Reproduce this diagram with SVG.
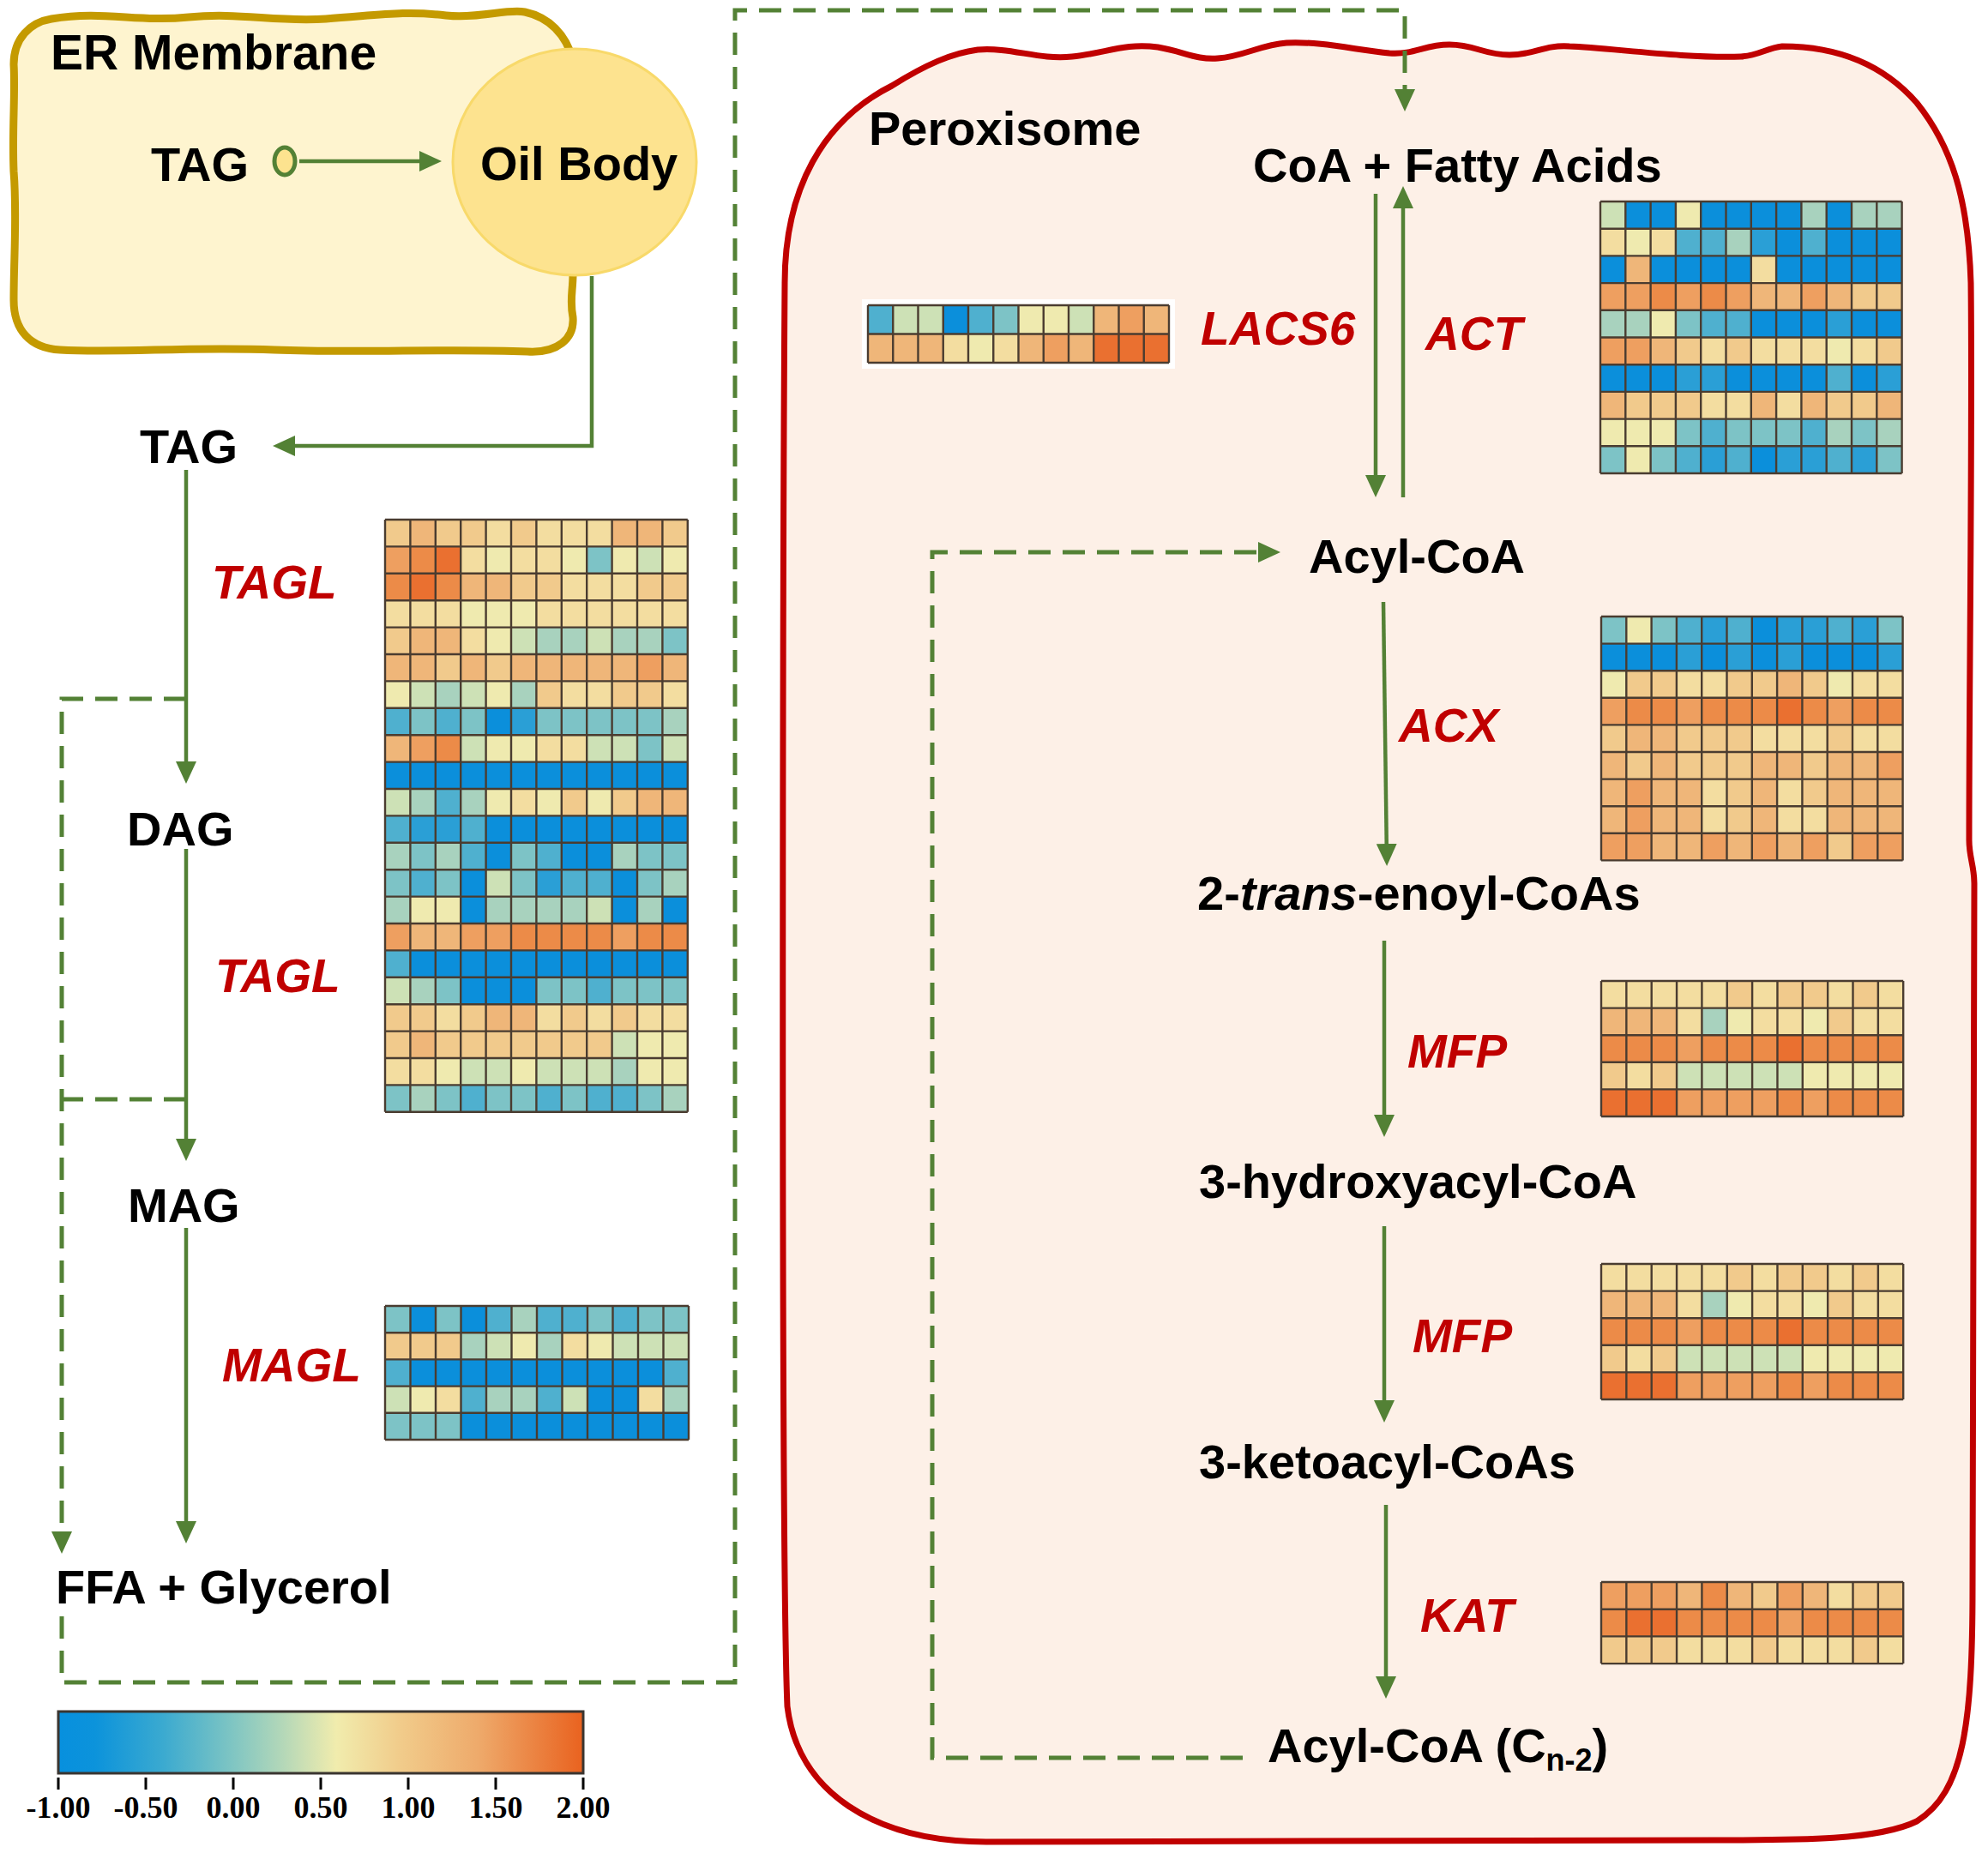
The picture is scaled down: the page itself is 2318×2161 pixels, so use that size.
<svg xmlns="http://www.w3.org/2000/svg" width="2318" height="2161" viewBox="0 0 2318 2161">
<style>
.lbl{font-family:"Liberation Sans",Arial,sans-serif;font-weight:bold;font-size:56px;fill:#000}
.enz{font-family:"Liberation Sans",Arial,sans-serif;font-weight:bold;font-style:italic;font-size:55px;fill:#C00000}
.tick{font-family:"Liberation Serif","Times New Roman",serif;font-weight:bold;font-size:36px;fill:#000;text-anchor:middle}
.hm rect{width:1px;height:1px}
.grid{fill:none;stroke:#4A3C30;stroke-width:2.4;vector-effect:non-scaling-stroke}
.s{fill:none;stroke:#538135;stroke-width:4.5}
.d{fill:none;stroke:#538135;stroke-width:5;stroke-dasharray:26 14}
.B{fill:#0B8FDB}.b{fill:#2A9FD6}.t{fill:#4FB0CF}.T{fill:#7DC3C6}.g{fill:#A8D2BE}.G{fill:#CDE1B6}.y{fill:#EFEAAF}.Y{fill:#F3DDA0}.o{fill:#F1CA8C}.O{fill:#EFB679}.p{fill:#EE9F60}.P{fill:#EC8B48}.R{fill:#EA7030}
</style>
<defs>
<marker id="ah" markerUnits="userSpaceOnUse" markerWidth="26" markerHeight="24" refX="20" refY="12" orient="auto" viewBox="0 0 26 24"><path d="M0,0 L26,12 L0,24 z" fill="#538135"/></marker>
<linearGradient id="lg" x1="0" y1="0" x2="1" y2="0">
<stop offset="0" stop-color="#0790DE"/><stop offset="0.07" stop-color="#0C93DB"/><stop offset="0.2" stop-color="#3BAAD0"/><stop offset="0.33" stop-color="#7EC5C3"/><stop offset="0.43" stop-color="#B5D8B8"/><stop offset="0.53" stop-color="#F1ECAD"/><stop offset="0.65" stop-color="#F1CC8B"/><stop offset="0.8" stop-color="#EEAA6B"/><stop offset="1" stop-color="#E9621F"/>
</linearGradient>
</defs>
<rect width="2318" height="2161" fill="#fff"/>

<g id="er-membrane">
<path d="M60,22 C120,12 160,26 220,20 C280,14 320,26 380,22 C440,18 470,12 520,18 C560,22 590,10 612,14 C640,20 660,40 668,70 L668,320 C668,340 664,350 668,370 C670,395 650,412 615,410 C520,406 420,412 320,408 C220,404 140,412 70,408 C35,406 16,385 16,350 C16,300 20,250 16,200 C14,150 18,110 16,75 C16,45 35,26 60,22 Z" fill="#FEF4CF" stroke="#C49A00" stroke-width="9"/>
<text class="lbl" x="59" y="81" style="font-size:57px">ER Membrane</text>
<text class="lbl" x="176" y="211">TAG</text>
<ellipse cx="332" cy="188" rx="12" ry="16" fill="#FDE38F" stroke="#538135" stroke-width="5"/>
</g>

<g id="oil-body">
<ellipse cx="670" cy="189" rx="142" ry="132" fill="#FDE38F" stroke="#F8D96A" stroke-width="3"/>
<text class="lbl" x="560" y="210">Oil Body</text>
</g>

<g id="peroxisome">
<path d="M915,330 C915,220 960,140 1040,100 C1080,75 1110,62 1140,58 C1180,55 1210,70 1250,66 C1290,62 1310,50 1350,55 C1380,60 1395,70 1420,68 C1450,66 1470,52 1500,50 C1540,48 1580,58 1620,62 C1650,64 1660,52 1690,52 C1720,52 1730,64 1760,64 C1790,64 1800,52 1830,54 C1880,56 1960,68 2030,66 C2050,65 2060,56 2078,54 C2150,54 2200,80 2235,120 C2275,170 2295,230 2298,330 C2300,500 2296,800 2296,980 C2296,1000 2302,1010 2302,1030 C2302,1400 2300,1700 2300,1850 C2300,2010 2290,2090 2235,2124 C2190,2146 2100,2146 2000,2146 L1150,2148 C1020,2148 930,2090 918,1990 C910,1800 913,600 915,330 Z" fill="#FDF0E7" stroke="#C00000" stroke-width="7"/>
<text class="lbl" x="1013" y="169">Peroxisome</text>
</g>

<g id="connectors">
<line class="s" x1="349" y1="188" x2="509" y2="188" marker-end="url(#ah)"/>
<path class="s" d="M690,322 V520 H324" marker-end="url(#ah)"/>
<path class="s" d="M217,548 V908" marker-end="url(#ah)"/>
<path class="s" d="M217,990 V1348" marker-end="url(#ah)"/>
<path class="s" d="M217,1432 V1794" marker-end="url(#ah)"/>
<path class="d" d="M217,815 H72 V1806" marker-end="url(#ah)"/>
<path class="d" d="M217,1282 H72"/>
<path class="d" d="M72,1885 V1962 H857 V12 H1638 V124" marker-end="url(#ah)"/>
<path class="s" d="M1604,226 V574" marker-end="url(#ah)"/>
<path class="s" d="M1636,580 V223" marker-end="url(#ah)"/>
<path class="d" d="M1449,2050 H1087 V644 H1487" marker-end="url(#ah)"/>
<path class="s" d="M1613,702 L1617,1004" marker-end="url(#ah)"/>
<path class="s" d="M1614,1097 V1320" marker-end="url(#ah)"/>
<path class="s" d="M1614,1430 V1653" marker-end="url(#ah)"/>
<path class="s" d="M1616,1755 V1975" marker-end="url(#ah)"/>
</g>

<g id="node-tag"><text class="lbl" x="163" y="540">TAG</text></g>
<g id="node-dag"><text class="lbl" x="148" y="986">DAG</text></g>
<g id="node-mag"><text class="lbl" x="149" y="1425">MAG</text></g>
<g id="node-ffa"><text class="lbl" x="65" y="1870">FFA + Glycerol</text></g>
<g id="enz-tagl1"><text class="enz" x="247" y="698">TAGL</text></g>
<g id="enz-tagl2"><text class="enz" x="251" y="1157">TAGL</text></g>
<g id="enz-magl"><text class="enz" x="259" y="1611">MAGL</text></g>
<g id="node-coa"><text class="lbl" x="1461" y="212">CoA + Fatty Acids</text></g>
<g id="enz-lacs6"><text class="enz" x="1400" y="402">LACS6</text></g>
<g id="enz-act"><text class="enz" x="1662" y="408">ACT</text></g>
<g id="node-acylcoa"><text class="lbl" x="1526" y="668">Acyl-CoA</text></g>
<g id="enz-acx"><text class="enz" x="1631" y="865">ACX</text></g>
<g id="node-enoyl"><text class="lbl" x="1396" y="1061">2-<tspan font-style="italic">trans</tspan>-enoyl-CoAs</text></g>
<g id="enz-mfp1"><text class="enz" x="1641" y="1245">MFP</text></g>
<g id="node-hydroxy"><text class="lbl" x="1398" y="1397">3-hydroxyacyl-CoA</text></g>
<g id="enz-mfp2"><text class="enz" x="1647" y="1577">MFP</text></g>
<g id="node-keto"><text class="lbl" x="1398" y="1724">3-ketoacyl-CoAs</text></g>
<g id="enz-kat"><text class="enz" x="1656" y="1903">KAT</text></g>
<g id="node-acylcoa2"><text class="lbl" x="1478" y="2055">Acyl-CoA (C<tspan font-size="36" dy="10">n-2</tspan><tspan dy="-10">)</tspan></text></g>

<g id="heatmap-tagl" class="hm" transform="translate(449,606) scale(29.4,31.4)">
<rect x="0" y="0" class="o"/><rect x="1" y="0" class="O"/><rect x="2" y="0" class="o"/><rect x="3" y="0" class="o"/><rect x="4" y="0" class="Y"/><rect x="5" y="0" class="o"/><rect x="6" y="0" class="Y"/><rect x="7" y="0" class="Y"/><rect x="8" y="0" class="Y"/><rect x="9" y="0" class="O"/><rect x="10" y="0" class="O"/><rect x="11" y="0" class="o"/>
<rect x="0" y="1" class="p"/><rect x="1" y="1" class="P"/><rect x="2" y="1" class="R"/><rect x="3" y="1" class="Y"/><rect x="4" y="1" class="y"/><rect x="5" y="1" class="Y"/><rect x="6" y="1" class="Y"/><rect x="7" y="1" class="y"/><rect x="8" y="1" class="T"/><rect x="9" y="1" class="y"/><rect x="10" y="1" class="G"/><rect x="11" y="1" class="y"/>
<rect x="0" y="2" class="P"/><rect x="1" y="2" class="R"/><rect x="2" y="2" class="P"/><rect x="3" y="2" class="O"/><rect x="4" y="2" class="O"/><rect x="5" y="2" class="o"/><rect x="6" y="2" class="o"/><rect x="7" y="2" class="Y"/><rect x="8" y="2" class="Y"/><rect x="9" y="2" class="Y"/><rect x="10" y="2" class="o"/><rect x="11" y="2" class="o"/>
<rect x="0" y="3" class="Y"/><rect x="1" y="3" class="Y"/><rect x="2" y="3" class="Y"/><rect x="3" y="3" class="y"/><rect x="4" y="3" class="y"/><rect x="5" y="3" class="y"/><rect x="6" y="3" class="Y"/><rect x="7" y="3" class="Y"/><rect x="8" y="3" class="Y"/><rect x="9" y="3" class="Y"/><rect x="10" y="3" class="Y"/><rect x="11" y="3" class="Y"/>
<rect x="0" y="4" class="o"/><rect x="1" y="4" class="O"/><rect x="2" y="4" class="O"/><rect x="3" y="4" class="Y"/><rect x="4" y="4" class="y"/><rect x="5" y="4" class="G"/><rect x="6" y="4" class="g"/><rect x="7" y="4" class="g"/><rect x="8" y="4" class="G"/><rect x="9" y="4" class="g"/><rect x="10" y="4" class="g"/><rect x="11" y="4" class="T"/>
<rect x="0" y="5" class="O"/><rect x="1" y="5" class="O"/><rect x="2" y="5" class="o"/><rect x="3" y="5" class="O"/><rect x="4" y="5" class="o"/><rect x="5" y="5" class="O"/><rect x="6" y="5" class="O"/><rect x="7" y="5" class="O"/><rect x="8" y="5" class="O"/><rect x="9" y="5" class="O"/><rect x="10" y="5" class="p"/><rect x="11" y="5" class="O"/>
<rect x="0" y="6" class="y"/><rect x="1" y="6" class="G"/><rect x="2" y="6" class="g"/><rect x="3" y="6" class="G"/><rect x="4" y="6" class="y"/><rect x="5" y="6" class="g"/><rect x="6" y="6" class="o"/><rect x="7" y="6" class="Y"/><rect x="8" y="6" class="Y"/><rect x="9" y="6" class="o"/><rect x="10" y="6" class="o"/><rect x="11" y="6" class="Y"/>
<rect x="0" y="7" class="t"/><rect x="1" y="7" class="T"/><rect x="2" y="7" class="t"/><rect x="3" y="7" class="T"/><rect x="4" y="7" class="B"/><rect x="5" y="7" class="b"/><rect x="6" y="7" class="T"/><rect x="7" y="7" class="T"/><rect x="8" y="7" class="T"/><rect x="9" y="7" class="T"/><rect x="10" y="7" class="T"/><rect x="11" y="7" class="g"/>
<rect x="0" y="8" class="O"/><rect x="1" y="8" class="p"/><rect x="2" y="8" class="P"/><rect x="3" y="8" class="G"/><rect x="4" y="8" class="y"/><rect x="5" y="8" class="y"/><rect x="6" y="8" class="Y"/><rect x="7" y="8" class="Y"/><rect x="8" y="8" class="G"/><rect x="9" y="8" class="G"/><rect x="10" y="8" class="T"/><rect x="11" y="8" class="G"/>
<rect x="0" y="9" class="B"/><rect x="1" y="9" class="B"/><rect x="2" y="9" class="B"/><rect x="3" y="9" class="B"/><rect x="4" y="9" class="B"/><rect x="5" y="9" class="B"/><rect x="6" y="9" class="B"/><rect x="7" y="9" class="B"/><rect x="8" y="9" class="B"/><rect x="9" y="9" class="B"/><rect x="10" y="9" class="B"/><rect x="11" y="9" class="B"/>
<rect x="0" y="10" class="G"/><rect x="1" y="10" class="g"/><rect x="2" y="10" class="t"/><rect x="3" y="10" class="g"/><rect x="4" y="10" class="y"/><rect x="5" y="10" class="Y"/><rect x="6" y="10" class="y"/><rect x="7" y="10" class="o"/><rect x="8" y="10" class="y"/><rect x="9" y="10" class="o"/><rect x="10" y="10" class="O"/><rect x="11" y="10" class="O"/>
<rect x="0" y="11" class="t"/><rect x="1" y="11" class="b"/><rect x="2" y="11" class="b"/><rect x="3" y="11" class="t"/><rect x="4" y="11" class="B"/><rect x="5" y="11" class="B"/><rect x="6" y="11" class="B"/><rect x="7" y="11" class="B"/><rect x="8" y="11" class="B"/><rect x="9" y="11" class="B"/><rect x="10" y="11" class="B"/><rect x="11" y="11" class="B"/>
<rect x="0" y="12" class="g"/><rect x="1" y="12" class="T"/><rect x="2" y="12" class="g"/><rect x="3" y="12" class="t"/><rect x="4" y="12" class="B"/><rect x="5" y="12" class="T"/><rect x="6" y="12" class="t"/><rect x="7" y="12" class="B"/><rect x="8" y="12" class="B"/><rect x="9" y="12" class="g"/><rect x="10" y="12" class="T"/><rect x="11" y="12" class="T"/>
<rect x="0" y="13" class="T"/><rect x="1" y="13" class="t"/><rect x="2" y="13" class="T"/><rect x="3" y="13" class="B"/><rect x="4" y="13" class="G"/><rect x="5" y="13" class="T"/><rect x="6" y="13" class="b"/><rect x="7" y="13" class="t"/><rect x="8" y="13" class="t"/><rect x="9" y="13" class="B"/><rect x="10" y="13" class="T"/><rect x="11" y="13" class="g"/>
<rect x="0" y="14" class="g"/><rect x="1" y="14" class="y"/><rect x="2" y="14" class="y"/><rect x="3" y="14" class="B"/><rect x="4" y="14" class="g"/><rect x="5" y="14" class="g"/><rect x="6" y="14" class="g"/><rect x="7" y="14" class="g"/><rect x="8" y="14" class="G"/><rect x="9" y="14" class="B"/><rect x="10" y="14" class="g"/><rect x="11" y="14" class="B"/>
<rect x="0" y="15" class="p"/><rect x="1" y="15" class="O"/><rect x="2" y="15" class="O"/><rect x="3" y="15" class="p"/><rect x="4" y="15" class="p"/><rect x="5" y="15" class="P"/><rect x="6" y="15" class="P"/><rect x="7" y="15" class="P"/><rect x="8" y="15" class="P"/><rect x="9" y="15" class="p"/><rect x="10" y="15" class="P"/><rect x="11" y="15" class="P"/>
<rect x="0" y="16" class="t"/><rect x="1" y="16" class="B"/><rect x="2" y="16" class="B"/><rect x="3" y="16" class="B"/><rect x="4" y="16" class="B"/><rect x="5" y="16" class="B"/><rect x="6" y="16" class="B"/><rect x="7" y="16" class="B"/><rect x="8" y="16" class="B"/><rect x="9" y="16" class="B"/><rect x="10" y="16" class="B"/><rect x="11" y="16" class="B"/>
<rect x="0" y="17" class="G"/><rect x="1" y="17" class="g"/><rect x="2" y="17" class="T"/><rect x="3" y="17" class="B"/><rect x="4" y="17" class="B"/><rect x="5" y="17" class="B"/><rect x="6" y="17" class="T"/><rect x="7" y="17" class="T"/><rect x="8" y="17" class="t"/><rect x="9" y="17" class="T"/><rect x="10" y="17" class="T"/><rect x="11" y="17" class="T"/>
<rect x="0" y="18" class="o"/><rect x="1" y="18" class="o"/><rect x="2" y="18" class="Y"/><rect x="3" y="18" class="o"/><rect x="4" y="18" class="O"/><rect x="5" y="18" class="O"/><rect x="6" y="18" class="Y"/><rect x="7" y="18" class="o"/><rect x="8" y="18" class="Y"/><rect x="9" y="18" class="o"/><rect x="10" y="18" class="Y"/><rect x="11" y="18" class="Y"/>
<rect x="0" y="19" class="o"/><rect x="1" y="19" class="O"/><rect x="2" y="19" class="o"/><rect x="3" y="19" class="o"/><rect x="4" y="19" class="o"/><rect x="5" y="19" class="o"/><rect x="6" y="19" class="o"/><rect x="7" y="19" class="o"/><rect x="8" y="19" class="o"/><rect x="9" y="19" class="G"/><rect x="10" y="19" class="y"/><rect x="11" y="19" class="y"/>
<rect x="0" y="20" class="Y"/><rect x="1" y="20" class="Y"/><rect x="2" y="20" class="y"/><rect x="3" y="20" class="G"/><rect x="4" y="20" class="G"/><rect x="5" y="20" class="y"/><rect x="6" y="20" class="G"/><rect x="7" y="20" class="G"/><rect x="8" y="20" class="G"/><rect x="9" y="20" class="g"/><rect x="10" y="20" class="y"/><rect x="11" y="20" class="y"/>
<rect x="0" y="21" class="T"/><rect x="1" y="21" class="g"/><rect x="2" y="21" class="T"/><rect x="3" y="21" class="t"/><rect x="4" y="21" class="T"/><rect x="5" y="21" class="T"/><rect x="6" y="21" class="t"/><rect x="7" y="21" class="T"/><rect x="8" y="21" class="t"/><rect x="9" y="21" class="t"/><rect x="10" y="21" class="T"/><rect x="11" y="21" class="g"/>
<path class="grid" d="M0 0V22M1 0V22M2 0V22M3 0V22M4 0V22M5 0V22M6 0V22M7 0V22M8 0V22M9 0V22M10 0V22M11 0V22M12 0V22M0 0H12M0 1H12M0 2H12M0 3H12M0 4H12M0 5H12M0 6H12M0 7H12M0 8H12M0 9H12M0 10H12M0 11H12M0 12H12M0 13H12M0 14H12M0 15H12M0 16H12M0 17H12M0 18H12M0 19H12M0 20H12M0 21H12M0 22H12"/>
</g>

<g id="heatmap-magl" class="hm" transform="translate(449,1523) scale(29.5,31.2)">
<rect x="0" y="0" class="T"/><rect x="1" y="0" class="B"/><rect x="2" y="0" class="T"/><rect x="3" y="0" class="B"/><rect x="4" y="0" class="t"/><rect x="5" y="0" class="g"/><rect x="6" y="0" class="t"/><rect x="7" y="0" class="t"/><rect x="8" y="0" class="T"/><rect x="9" y="0" class="t"/><rect x="10" y="0" class="T"/><rect x="11" y="0" class="T"/>
<rect x="0" y="1" class="o"/><rect x="1" y="1" class="o"/><rect x="2" y="1" class="o"/><rect x="3" y="1" class="g"/><rect x="4" y="1" class="G"/><rect x="5" y="1" class="y"/><rect x="6" y="1" class="g"/><rect x="7" y="1" class="Y"/><rect x="8" y="1" class="y"/><rect x="9" y="1" class="G"/><rect x="10" y="1" class="G"/><rect x="11" y="1" class="G"/>
<rect x="0" y="2" class="t"/><rect x="1" y="2" class="B"/><rect x="2" y="2" class="B"/><rect x="3" y="2" class="B"/><rect x="4" y="2" class="B"/><rect x="5" y="2" class="B"/><rect x="6" y="2" class="B"/><rect x="7" y="2" class="B"/><rect x="8" y="2" class="B"/><rect x="9" y="2" class="B"/><rect x="10" y="2" class="B"/><rect x="11" y="2" class="t"/>
<rect x="0" y="3" class="G"/><rect x="1" y="3" class="y"/><rect x="2" y="3" class="Y"/><rect x="3" y="3" class="t"/><rect x="4" y="3" class="g"/><rect x="5" y="3" class="g"/><rect x="6" y="3" class="t"/><rect x="7" y="3" class="G"/><rect x="8" y="3" class="B"/><rect x="9" y="3" class="B"/><rect x="10" y="3" class="Y"/><rect x="11" y="3" class="g"/>
<rect x="0" y="4" class="T"/><rect x="1" y="4" class="T"/><rect x="2" y="4" class="T"/><rect x="3" y="4" class="B"/><rect x="4" y="4" class="B"/><rect x="5" y="4" class="B"/><rect x="6" y="4" class="B"/><rect x="7" y="4" class="B"/><rect x="8" y="4" class="B"/><rect x="9" y="4" class="B"/><rect x="10" y="4" class="B"/><rect x="11" y="4" class="B"/>
<path class="grid" d="M0 0V5M1 0V5M2 0V5M3 0V5M4 0V5M5 0V5M6 0V5M7 0V5M8 0V5M9 0V5M10 0V5M11 0V5M12 0V5M0 0H12M0 1H12M0 2H12M0 3H12M0 4H12M0 5H12"/>
</g>

<g id="heatmap-lacs6">
<rect x="1005" y="349" width="365" height="81" fill="#fff"/>
<g class="hm" transform="translate(1012,356) scale(29.25,33.5)">
<rect x="0" y="0" class="t"/><rect x="1" y="0" class="G"/><rect x="2" y="0" class="G"/><rect x="3" y="0" class="B"/><rect x="4" y="0" class="t"/><rect x="5" y="0" class="T"/><rect x="6" y="0" class="y"/><rect x="7" y="0" class="y"/><rect x="8" y="0" class="G"/><rect x="9" y="0" class="O"/><rect x="10" y="0" class="p"/><rect x="11" y="0" class="O"/>
<rect x="0" y="1" class="O"/><rect x="1" y="1" class="O"/><rect x="2" y="1" class="O"/><rect x="3" y="1" class="Y"/><rect x="4" y="1" class="y"/><rect x="5" y="1" class="Y"/><rect x="6" y="1" class="O"/><rect x="7" y="1" class="p"/><rect x="8" y="1" class="O"/><rect x="9" y="1" class="R"/><rect x="10" y="1" class="R"/><rect x="11" y="1" class="R"/>
<path class="grid" d="M0 0V2M1 0V2M2 0V2M3 0V2M4 0V2M5 0V2M6 0V2M7 0V2M8 0V2M9 0V2M10 0V2M11 0V2M12 0V2M0 0H12M0 1H12M0 2H12"/>
</g>
</g>

<g id="heatmap-act" class="hm" transform="translate(1866,235) scale(29.3,31.7)">
<rect x="0" y="0" class="G"/><rect x="1" y="0" class="B"/><rect x="2" y="0" class="B"/><rect x="3" y="0" class="y"/><rect x="4" y="0" class="B"/><rect x="5" y="0" class="B"/><rect x="6" y="0" class="B"/><rect x="7" y="0" class="B"/><rect x="8" y="0" class="g"/><rect x="9" y="0" class="B"/><rect x="10" y="0" class="g"/><rect x="11" y="0" class="g"/>
<rect x="0" y="1" class="Y"/><rect x="1" y="1" class="y"/><rect x="2" y="1" class="Y"/><rect x="3" y="1" class="t"/><rect x="4" y="1" class="t"/><rect x="5" y="1" class="g"/><rect x="6" y="1" class="b"/><rect x="7" y="1" class="B"/><rect x="8" y="1" class="t"/><rect x="9" y="1" class="B"/><rect x="10" y="1" class="B"/><rect x="11" y="1" class="B"/>
<rect x="0" y="2" class="B"/><rect x="1" y="2" class="O"/><rect x="2" y="2" class="B"/><rect x="3" y="2" class="B"/><rect x="4" y="2" class="B"/><rect x="5" y="2" class="B"/><rect x="6" y="2" class="Y"/><rect x="7" y="2" class="B"/><rect x="8" y="2" class="B"/><rect x="9" y="2" class="B"/><rect x="10" y="2" class="B"/><rect x="11" y="2" class="B"/>
<rect x="0" y="3" class="p"/><rect x="1" y="3" class="p"/><rect x="2" y="3" class="P"/><rect x="3" y="3" class="p"/><rect x="4" y="3" class="P"/><rect x="5" y="3" class="p"/><rect x="6" y="3" class="O"/><rect x="7" y="3" class="O"/><rect x="8" y="3" class="p"/><rect x="9" y="3" class="O"/><rect x="10" y="3" class="o"/><rect x="11" y="3" class="o"/>
<rect x="0" y="4" class="g"/><rect x="1" y="4" class="g"/><rect x="2" y="4" class="y"/><rect x="3" y="4" class="T"/><rect x="4" y="4" class="t"/><rect x="5" y="4" class="t"/><rect x="6" y="4" class="B"/><rect x="7" y="4" class="B"/><rect x="8" y="4" class="B"/><rect x="9" y="4" class="b"/><rect x="10" y="4" class="B"/><rect x="11" y="4" class="B"/>
<rect x="0" y="5" class="p"/><rect x="1" y="5" class="p"/><rect x="2" y="5" class="O"/><rect x="3" y="5" class="o"/><rect x="4" y="5" class="Y"/><rect x="5" y="5" class="o"/><rect x="6" y="5" class="Y"/><rect x="7" y="5" class="Y"/><rect x="8" y="5" class="Y"/><rect x="9" y="5" class="y"/><rect x="10" y="5" class="Y"/><rect x="11" y="5" class="o"/>
<rect x="0" y="6" class="B"/><rect x="1" y="6" class="B"/><rect x="2" y="6" class="B"/><rect x="3" y="6" class="b"/><rect x="4" y="6" class="b"/><rect x="5" y="6" class="B"/><rect x="6" y="6" class="B"/><rect x="7" y="6" class="B"/><rect x="8" y="6" class="B"/><rect x="9" y="6" class="t"/><rect x="10" y="6" class="B"/><rect x="11" y="6" class="b"/>
<rect x="0" y="7" class="O"/><rect x="1" y="7" class="o"/><rect x="2" y="7" class="o"/><rect x="3" y="7" class="o"/><rect x="4" y="7" class="Y"/><rect x="5" y="7" class="Y"/><rect x="6" y="7" class="O"/><rect x="7" y="7" class="Y"/><rect x="8" y="7" class="O"/><rect x="9" y="7" class="o"/><rect x="10" y="7" class="o"/><rect x="11" y="7" class="O"/>
<rect x="0" y="8" class="y"/><rect x="1" y="8" class="y"/><rect x="2" y="8" class="y"/><rect x="3" y="8" class="T"/><rect x="4" y="8" class="t"/><rect x="5" y="8" class="T"/><rect x="6" y="8" class="T"/><rect x="7" y="8" class="T"/><rect x="8" y="8" class="t"/><rect x="9" y="8" class="g"/><rect x="10" y="8" class="T"/><rect x="11" y="8" class="g"/>
<rect x="0" y="9" class="T"/><rect x="1" y="9" class="y"/><rect x="2" y="9" class="T"/><rect x="3" y="9" class="t"/><rect x="4" y="9" class="b"/><rect x="5" y="9" class="t"/><rect x="6" y="9" class="B"/><rect x="7" y="9" class="b"/><rect x="8" y="9" class="b"/><rect x="9" y="9" class="t"/><rect x="10" y="9" class="b"/><rect x="11" y="9" class="T"/>
<path class="grid" d="M0 0V10M1 0V10M2 0V10M3 0V10M4 0V10M5 0V10M6 0V10M7 0V10M8 0V10M9 0V10M10 0V10M11 0V10M12 0V10M0 0H12M0 1H12M0 2H12M0 3H12M0 4H12M0 5H12M0 6H12M0 7H12M0 8H12M0 9H12M0 10H12"/>
</g>

<g id="heatmap-acx" class="hm" transform="translate(1867,719) scale(29.3,31.6)">
<rect x="0" y="0" class="T"/><rect x="1" y="0" class="y"/><rect x="2" y="0" class="T"/><rect x="3" y="0" class="t"/><rect x="4" y="0" class="b"/><rect x="5" y="0" class="t"/><rect x="6" y="0" class="B"/><rect x="7" y="0" class="b"/><rect x="8" y="0" class="b"/><rect x="9" y="0" class="t"/><rect x="10" y="0" class="b"/><rect x="11" y="0" class="T"/>
<rect x="0" y="1" class="B"/><rect x="1" y="1" class="B"/><rect x="2" y="1" class="B"/><rect x="3" y="1" class="b"/><rect x="4" y="1" class="B"/><rect x="5" y="1" class="b"/><rect x="6" y="1" class="B"/><rect x="7" y="1" class="b"/><rect x="8" y="1" class="B"/><rect x="9" y="1" class="B"/><rect x="10" y="1" class="B"/><rect x="11" y="1" class="b"/>
<rect x="0" y="2" class="y"/><rect x="1" y="2" class="o"/><rect x="2" y="2" class="o"/><rect x="3" y="2" class="Y"/><rect x="4" y="2" class="Y"/><rect x="5" y="2" class="o"/><rect x="6" y="2" class="o"/><rect x="7" y="2" class="O"/><rect x="8" y="2" class="o"/><rect x="9" y="2" class="y"/><rect x="10" y="2" class="Y"/><rect x="11" y="2" class="Y"/>
<rect x="0" y="3" class="p"/><rect x="1" y="3" class="P"/><rect x="2" y="3" class="P"/><rect x="3" y="3" class="p"/><rect x="4" y="3" class="P"/><rect x="5" y="3" class="P"/><rect x="6" y="3" class="P"/><rect x="7" y="3" class="R"/><rect x="8" y="3" class="P"/><rect x="9" y="3" class="p"/><rect x="10" y="3" class="P"/><rect x="11" y="3" class="P"/>
<rect x="0" y="4" class="o"/><rect x="1" y="4" class="O"/><rect x="2" y="4" class="O"/><rect x="3" y="4" class="o"/><rect x="4" y="4" class="o"/><rect x="5" y="4" class="o"/><rect x="6" y="4" class="Y"/><rect x="7" y="4" class="Y"/><rect x="8" y="4" class="Y"/><rect x="9" y="4" class="o"/><rect x="10" y="4" class="Y"/><rect x="11" y="4" class="Y"/>
<rect x="0" y="5" class="O"/><rect x="1" y="5" class="o"/><rect x="2" y="5" class="O"/><rect x="3" y="5" class="o"/><rect x="4" y="5" class="o"/><rect x="5" y="5" class="o"/><rect x="6" y="5" class="O"/><rect x="7" y="5" class="O"/><rect x="8" y="5" class="o"/><rect x="9" y="5" class="O"/><rect x="10" y="5" class="O"/><rect x="11" y="5" class="p"/>
<rect x="0" y="6" class="O"/><rect x="1" y="6" class="p"/><rect x="2" y="6" class="O"/><rect x="3" y="6" class="O"/><rect x="4" y="6" class="Y"/><rect x="5" y="6" class="o"/><rect x="6" y="6" class="O"/><rect x="7" y="6" class="Y"/><rect x="8" y="6" class="o"/><rect x="9" y="6" class="O"/><rect x="10" y="6" class="O"/><rect x="11" y="6" class="O"/>
<rect x="0" y="7" class="O"/><rect x="1" y="7" class="p"/><rect x="2" y="7" class="O"/><rect x="3" y="7" class="O"/><rect x="4" y="7" class="Y"/><rect x="5" y="7" class="o"/><rect x="6" y="7" class="O"/><rect x="7" y="7" class="Y"/><rect x="8" y="7" class="Y"/><rect x="9" y="7" class="O"/><rect x="10" y="7" class="O"/><rect x="11" y="7" class="O"/>
<rect x="0" y="8" class="p"/><rect x="1" y="8" class="p"/><rect x="2" y="8" class="O"/><rect x="3" y="8" class="O"/><rect x="4" y="8" class="p"/><rect x="5" y="8" class="O"/><rect x="6" y="8" class="p"/><rect x="7" y="8" class="O"/><rect x="8" y="8" class="p"/><rect x="9" y="8" class="o"/><rect x="10" y="8" class="p"/><rect x="11" y="8" class="p"/>
<path class="grid" d="M0 0V9M1 0V9M2 0V9M3 0V9M4 0V9M5 0V9M6 0V9M7 0V9M8 0V9M9 0V9M10 0V9M11 0V9M12 0V9M0 0H12M0 1H12M0 2H12M0 3H12M0 4H12M0 5H12M0 6H12M0 7H12M0 8H12M0 9H12"/>
</g>

<g id="heatmap-mfp1" class="hm" transform="translate(1867,1144) scale(29.35,31.6)">
<rect x="0" y="0" class="Y"/><rect x="1" y="0" class="Y"/><rect x="2" y="0" class="Y"/><rect x="3" y="0" class="Y"/><rect x="4" y="0" class="Y"/><rect x="5" y="0" class="o"/><rect x="6" y="0" class="Y"/><rect x="7" y="0" class="o"/><rect x="8" y="0" class="o"/><rect x="9" y="0" class="Y"/><rect x="10" y="0" class="o"/><rect x="11" y="0" class="Y"/>
<rect x="0" y="1" class="O"/><rect x="1" y="1" class="O"/><rect x="2" y="1" class="O"/><rect x="3" y="1" class="Y"/><rect x="4" y="1" class="g"/><rect x="5" y="1" class="y"/><rect x="6" y="1" class="Y"/><rect x="7" y="1" class="Y"/><rect x="8" y="1" class="y"/><rect x="9" y="1" class="o"/><rect x="10" y="1" class="Y"/><rect x="11" y="1" class="Y"/>
<rect x="0" y="2" class="P"/><rect x="1" y="2" class="P"/><rect x="2" y="2" class="P"/><rect x="3" y="2" class="p"/><rect x="4" y="2" class="P"/><rect x="5" y="2" class="P"/><rect x="6" y="2" class="P"/><rect x="7" y="2" class="R"/><rect x="8" y="2" class="P"/><rect x="9" y="2" class="P"/><rect x="10" y="2" class="P"/><rect x="11" y="2" class="P"/>
<rect x="0" y="3" class="o"/><rect x="1" y="3" class="Y"/><rect x="2" y="3" class="o"/><rect x="3" y="3" class="G"/><rect x="4" y="3" class="G"/><rect x="5" y="3" class="G"/><rect x="6" y="3" class="G"/><rect x="7" y="3" class="G"/><rect x="8" y="3" class="y"/><rect x="9" y="3" class="y"/><rect x="10" y="3" class="y"/><rect x="11" y="3" class="y"/>
<rect x="0" y="4" class="R"/><rect x="1" y="4" class="R"/><rect x="2" y="4" class="R"/><rect x="3" y="4" class="p"/><rect x="4" y="4" class="p"/><rect x="5" y="4" class="p"/><rect x="6" y="4" class="p"/><rect x="7" y="4" class="P"/><rect x="8" y="4" class="p"/><rect x="9" y="4" class="P"/><rect x="10" y="4" class="P"/><rect x="11" y="4" class="P"/>
<path class="grid" d="M0 0V5M1 0V5M2 0V5M3 0V5M4 0V5M5 0V5M6 0V5M7 0V5M8 0V5M9 0V5M10 0V5M11 0V5M12 0V5M0 0H12M0 1H12M0 2H12M0 3H12M0 4H12M0 5H12"/>
</g>

<g id="heatmap-mfp2" class="hm" transform="translate(1867,1474) scale(29.35,31.6)">
<rect x="0" y="0" class="Y"/><rect x="1" y="0" class="Y"/><rect x="2" y="0" class="Y"/><rect x="3" y="0" class="Y"/><rect x="4" y="0" class="Y"/><rect x="5" y="0" class="o"/><rect x="6" y="0" class="Y"/><rect x="7" y="0" class="o"/><rect x="8" y="0" class="o"/><rect x="9" y="0" class="Y"/><rect x="10" y="0" class="o"/><rect x="11" y="0" class="Y"/>
<rect x="0" y="1" class="O"/><rect x="1" y="1" class="O"/><rect x="2" y="1" class="O"/><rect x="3" y="1" class="Y"/><rect x="4" y="1" class="g"/><rect x="5" y="1" class="y"/><rect x="6" y="1" class="Y"/><rect x="7" y="1" class="Y"/><rect x="8" y="1" class="y"/><rect x="9" y="1" class="o"/><rect x="10" y="1" class="Y"/><rect x="11" y="1" class="Y"/>
<rect x="0" y="2" class="P"/><rect x="1" y="2" class="P"/><rect x="2" y="2" class="P"/><rect x="3" y="2" class="p"/><rect x="4" y="2" class="P"/><rect x="5" y="2" class="P"/><rect x="6" y="2" class="P"/><rect x="7" y="2" class="R"/><rect x="8" y="2" class="P"/><rect x="9" y="2" class="P"/><rect x="10" y="2" class="P"/><rect x="11" y="2" class="P"/>
<rect x="0" y="3" class="o"/><rect x="1" y="3" class="Y"/><rect x="2" y="3" class="o"/><rect x="3" y="3" class="G"/><rect x="4" y="3" class="G"/><rect x="5" y="3" class="G"/><rect x="6" y="3" class="G"/><rect x="7" y="3" class="G"/><rect x="8" y="3" class="y"/><rect x="9" y="3" class="y"/><rect x="10" y="3" class="y"/><rect x="11" y="3" class="y"/>
<rect x="0" y="4" class="R"/><rect x="1" y="4" class="R"/><rect x="2" y="4" class="R"/><rect x="3" y="4" class="p"/><rect x="4" y="4" class="p"/><rect x="5" y="4" class="p"/><rect x="6" y="4" class="p"/><rect x="7" y="4" class="P"/><rect x="8" y="4" class="p"/><rect x="9" y="4" class="P"/><rect x="10" y="4" class="P"/><rect x="11" y="4" class="P"/>
<path class="grid" d="M0 0V5M1 0V5M2 0V5M3 0V5M4 0V5M5 0V5M6 0V5M7 0V5M8 0V5M9 0V5M10 0V5M11 0V5M12 0V5M0 0H12M0 1H12M0 2H12M0 3H12M0 4H12M0 5H12"/>
</g>

<g id="heatmap-kat" class="hm" transform="translate(1867,1845) scale(29.35,31.7)">
<rect x="0" y="0" class="p"/><rect x="1" y="0" class="p"/><rect x="2" y="0" class="p"/><rect x="3" y="0" class="O"/><rect x="4" y="0" class="P"/><rect x="5" y="0" class="O"/><rect x="6" y="0" class="o"/><rect x="7" y="0" class="p"/><rect x="8" y="0" class="O"/><rect x="9" y="0" class="Y"/><rect x="10" y="0" class="o"/><rect x="11" y="0" class="o"/>
<rect x="0" y="1" class="P"/><rect x="1" y="1" class="R"/><rect x="2" y="1" class="R"/><rect x="3" y="1" class="P"/><rect x="4" y="1" class="P"/><rect x="5" y="1" class="P"/><rect x="6" y="1" class="P"/><rect x="7" y="1" class="p"/><rect x="8" y="1" class="P"/><rect x="9" y="1" class="P"/><rect x="10" y="1" class="P"/><rect x="11" y="1" class="P"/>
<rect x="0" y="2" class="o"/><rect x="1" y="2" class="o"/><rect x="2" y="2" class="o"/><rect x="3" y="2" class="Y"/><rect x="4" y="2" class="Y"/><rect x="5" y="2" class="Y"/><rect x="6" y="2" class="o"/><rect x="7" y="2" class="Y"/><rect x="8" y="2" class="Y"/><rect x="9" y="2" class="Y"/><rect x="10" y="2" class="o"/><rect x="11" y="2" class="Y"/>
<path class="grid" d="M0 0V3M1 0V3M2 0V3M3 0V3M4 0V3M5 0V3M6 0V3M7 0V3M8 0V3M9 0V3M10 0V3M11 0V3M12 0V3M0 0H12M0 1H12M0 2H12M0 3H12"/>
</g>

<g id="legend">
<rect x="68" y="1996" width="612" height="72" fill="url(#lg)" stroke="#3A3530" stroke-width="3"/>
<path d="M68,2073 V2087 M170,2073 V2087 M272,2073 V2087 M374,2073 V2087 M476,2073 V2087 M578,2073 V2087 M680,2073 V2087" stroke="#000" stroke-width="3"/>
<text class="tick" x="68" y="2120">-1.00</text>
<text class="tick" x="170" y="2120">-0.50</text>
<text class="tick" x="272" y="2120">0.00</text>
<text class="tick" x="374" y="2120">0.50</text>
<text class="tick" x="476" y="2120">1.00</text>
<text class="tick" x="578" y="2120">1.50</text>
<text class="tick" x="680" y="2120">2.00</text>
</g>
</svg>
